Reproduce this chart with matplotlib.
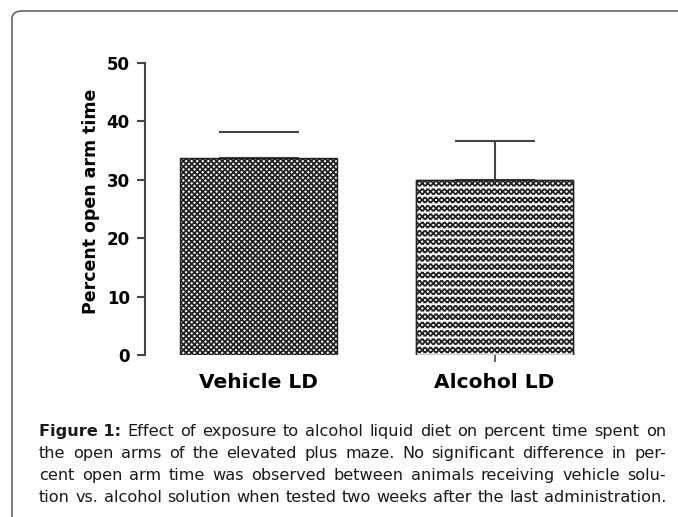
import matplotlib
matplotlib.use("Agg")
import matplotlib.pyplot as plt
from matplotlib.patches import FancyBboxPatch

plt.rcParams['font.family'] = ['DejaVu Sans']
plt.rcParams['hatch.linewidth'] = 1.3

groups = ['Vehicle LD', 'Alcohol LD']
means = [33.7, 30.0]
errors = [4.5, 6.6]
hatches = ['xxxxxx', 'xxxxxx']
stripes = [None, '--']
yticks = [0, 10, 20, 30, 40, 50]

caption_lines = [
    "Effect of exposure to alcohol liquid diet on percent time spent on",
    "the open arms of the elevated plus maze. No significant difference in per-",
    "cent open arm time was observed between animals receiving vehicle solu-",
    "tion vs. alcohol solution when tested two weeks after the last administration.",
]

fig = plt.figure(figsize=(6.78, 5.17), dpi=100)
W, H = 678, 517

# rounded frame around the figure panel
frame = FancyBboxPatch((12 / W, -0.05), 1.1, 1 - 11 / H + 0.05,
                       boxstyle="round,pad=0,rounding_size=0.015",
                       transform=fig.transFigure, fill=False,
                       edgecolor='#666666', linewidth=1.2)
fig.patches.append(frame)

ax = fig.add_axes([145 / W, 1 - 355 / H, (600 - 145) / W, (355 - 63) / H])
x = list(range(len(groups)))
bars = ax.bar(x, means, width=0.665, color='white', edgecolor='#222222',
              linewidth=1.0, zorder=2)
for b, h in zip(bars, hatches):
    b.set_hatch(h)
# white horizontal stripes on the alcohol bar
for i, st in enumerate(stripes):
    if st:
        ax.bar(x[i], means[i], width=0.665, color='none', edgecolor='white',
               linewidth=0, hatch=st, zorder=3)
        ax.bar(x[i], means[i], width=0.665, color='none',
               edgecolor='#222222', linewidth=1.0, zorder=4)

for i in x:
    eb = ax.errorbar(i, means[i], yerr=[[0], [errors[i]]], fmt='none',
                     ecolor='#444444', elinewidth=1.5, capsize=28.8,
                     capthick=1.5, zorder=1)
    if i == 0:
        # the reference shows only the cap for the vehicle group
        for lc in eb[2]:
            lc.set_visible(False)

ax.set_xlim(-0.481, 1.447)
ax.set_ylim(0, 50)
ax.set_yticks(yticks)
ax.set_yticklabels([str(t) for t in yticks], fontsize=12, fontweight='bold')
ax.set_xticks(x)
ax.set_xticklabels(groups, fontsize=14.5, fontweight='bold')
ax.tick_params(axis='x', length=5, width=1.2, color='#444444', pad=8)
ax.xaxis.get_major_ticks()[0].tick1line.set_visible(False)
ax.tick_params(axis='y', length=6, width=1.5, color='#444444', pad=5)
for s in ['top', 'right', 'bottom']:
    ax.spines[s].set_visible(False)
ax.spines['left'].set_color('#444444')
ax.spines['left'].set_linewidth(1.5)
ax.set_ylabel('Percent open arm time', fontsize=12.5, fontweight='bold')
ax.yaxis.set_label_coords(-0.1, 0.527)

# justified caption
fig.canvas.draw()
renderer = fig.canvas.get_renderer()
left_px, right_px = 39, 666
line_y = [436, 458, 480, 502]
fs = 11.6
for i, line in enumerate(caption_lines):
    items = []
    if i == 0:
        items.append(("Figure 1:", 'bold'))
    items += [(w, 'normal') for w in line.split(' ')]
    widths = []
    for w, wt in items:
        t = fig.text(0, 0, w, fontsize=fs, fontweight=wt)
        widths.append(t.get_window_extent(renderer).width)
        t.remove()
    gap = (right_px - left_px - sum(widths)) / (len(items) - 1)
    cx = left_px
    for (w, wt), wd in zip(items, widths):
        fig.text(cx / W, 1 - line_y[i] / H, w, fontsize=fs, fontweight=wt,
                 va='baseline', ha='left', color='#1a1a1a')
        cx += wd + gap

fig.savefig('out.png', dpi=100)
